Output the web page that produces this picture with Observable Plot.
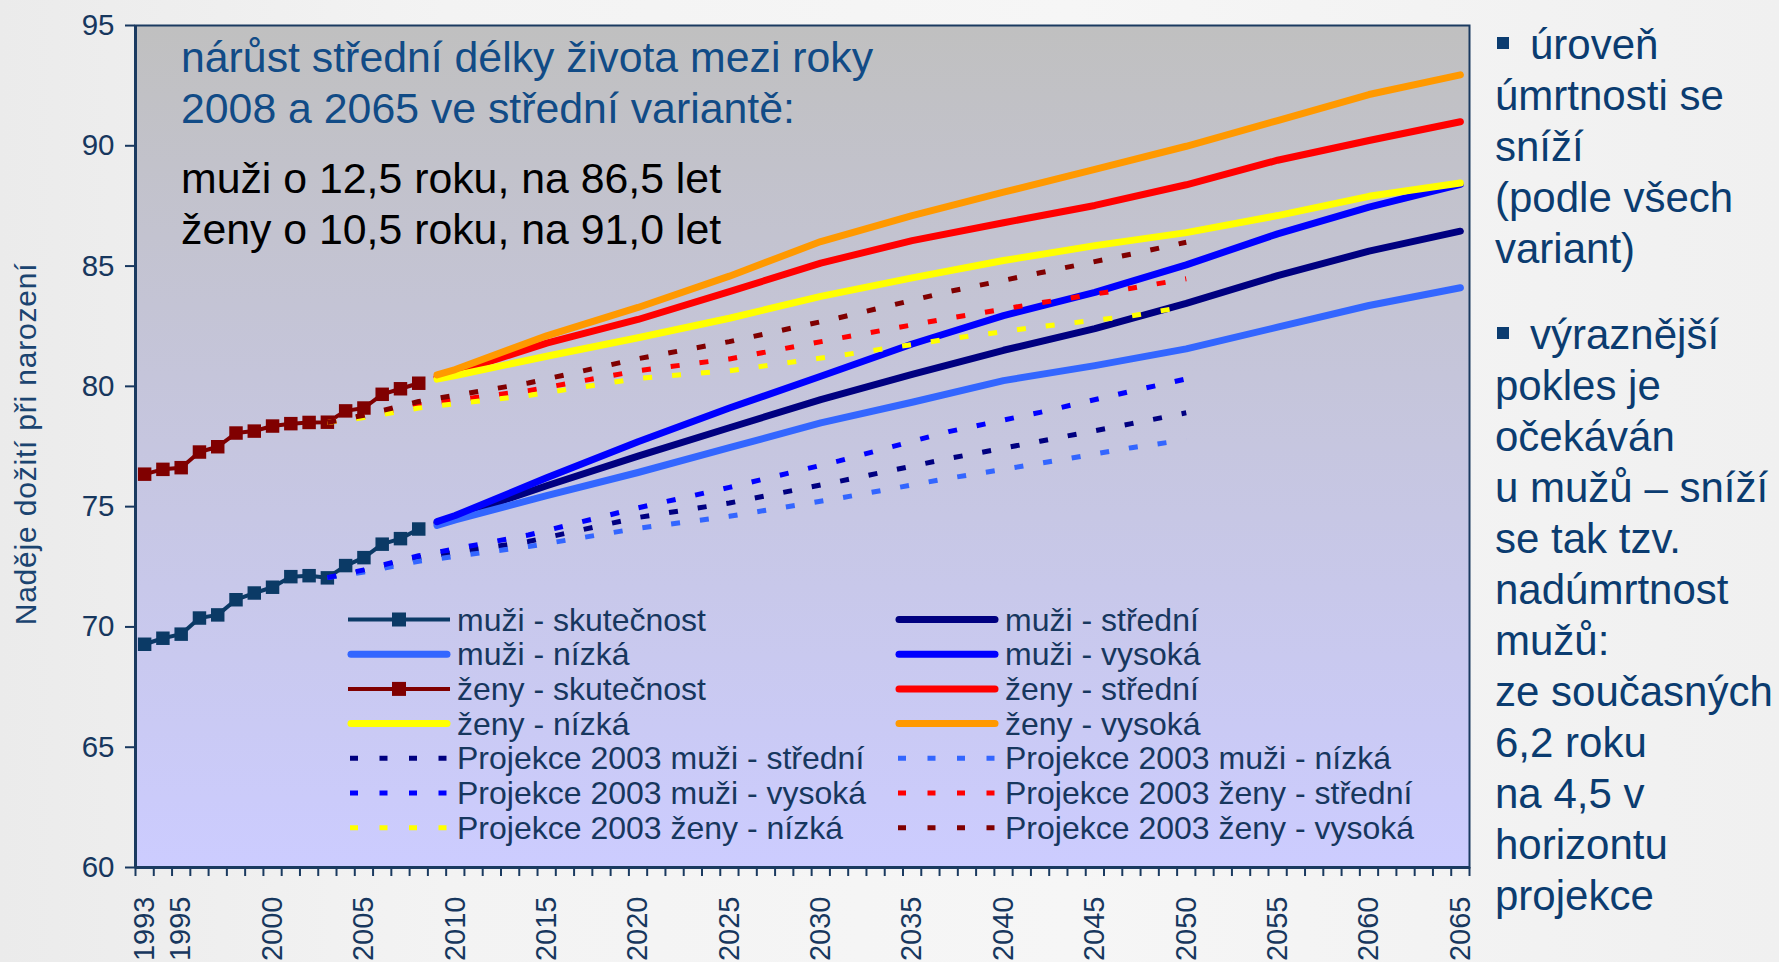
<!DOCTYPE html>
<html>
<head>
<meta charset="utf-8">
<script src="https://cdn.jsdelivr.net/npm/d3@7"></script>
<script src="https://cdn.jsdelivr.net/npm/@observablehq/plot@0.6"></script>
<style>
  html, body { margin: 0; padding: 0; }
  body { width: 1779px; height: 962px; overflow: hidden;
         background: linear-gradient(90deg, #ebebeb 0%, #f3f3f3 25%, #f6f6f6 60%, #f0f0f0 100%);
         font-family: "Liberation Sans", Arial, sans-serif; }
  #wrap { position: relative; width: 1779px; height: 962px; }
  #chart, #overlay { position: absolute; left: 0; top: 0; }
  #overlay { pointer-events: none; }
</style>
</head>
<body>
<div id="wrap">
  <div id="chart"></div>
  <div id="overlay"></div>
</div>
<script>
// ---------------- data ----------------
const histYears = [1993,1994,1995,1996,1997,1998,1999,2000,2001,2002,2003,2004,2005,2006,2007,2008];
const muziSkutecnost = [69.28,69.53,69.70,70.37,70.50,71.13,71.41,71.65,72.09,72.13,72.04,72.55,72.88,73.44,73.67,74.07];
const zenySkutecnost = [76.35,76.55,76.62,77.27,77.49,78.06,78.14,78.35,78.45,78.50,78.51,78.98,79.10,79.67,79.90,80.13];

const projYears   = [2009,2010,2015,2020,2025,2030,2035,2040,2045,2050,2055,2060,2065];
const muziStredni = [74.32,74.58,75.87,77.10,78.28,79.45,80.50,81.50,82.40,83.45,84.60,85.62,86.45];
const muziNizka   = [74.22,74.45,75.46,76.42,77.45,78.48,79.34,80.24,80.86,81.56,82.46,83.36,84.10];
const muziVysoka  = [74.38,74.63,76.20,77.70,79.10,80.42,81.76,82.94,83.91,85.05,86.34,87.45,88.40];
const zenyStredni = [80.38,80.58,81.80,82.78,83.94,85.12,86.06,86.80,87.52,88.38,89.40,90.22,91.00];
const zenyNizka   = [80.30,80.45,81.25,82.02,82.83,83.74,84.51,85.23,85.85,86.39,87.10,87.90,88.45];
const zenyVysoka  = [80.48,80.70,82.10,83.28,84.58,86.02,87.10,88.07,89.02,89.98,91.05,92.13,92.95];

const p03Years        = [2003,2005,2008,2014,2020,2025,2031,2037,2042,2047,2050];
const p03MuziStredni  = [72.05,72.33,72.87,73.55,74.55,75.15,76.05,77.00,77.72,78.45,78.90];
const p03MuziNizka    = [72.05,72.28,72.73,73.34,74.10,74.60,75.35,76.18,76.80,77.45,77.78];
const p03MuziVysoka   = [72.05,72.37,72.96,73.82,74.95,75.80,76.90,78.12,78.92,79.80,80.31];
const p03ZenyStredni  = [78.50,78.75,79.23,79.82,80.65,81.14,82.00,82.83,83.47,84.08,84.47];
const p03ZenyNizka    = [78.50,78.70,79.10,79.62,80.33,80.65,81.28,81.97,82.48,82.93,83.32];
const p03ZenyVysoka   = [78.50,78.80,79.37,80.14,81.15,81.86,82.85,83.94,84.72,85.50,85.99];

const yTicks = [60,65,70,75,80,85,90,95];
const xTickLabels = [1993,1995,2000,2005,2010,2015,2020,2025,2030,2035,2040,2045,2050,2055,2060,2065];
const yTitle = "Naděje dožití při narození";

const seriesNames = [
  "muži - skutečnost", "muži - střední",
  "muži - nízká", "muži - vysoká",
  "ženy - skutečnost", "ženy - střední",
  "ženy - nízká", "ženy - vysoká",
  "Projekce 2003 muži - střední", "Projekce 2003 muži - nízká",
  "Projekce 2003 muži - vysoká", "Projekce 2003 ženy - střední",
  "Projekce 2003 ženy - nízká", "Projekce 2003 ženy - vysoká"
];
const seriesData = {
  "muži - skutečnost": [histYears, muziSkutecnost],
  "muži - střední": [projYears, muziStredni],
  "muži - nízká": [projYears, muziNizka],
  "muži - vysoká": [projYears, muziVysoka],
  "ženy - skutečnost": [histYears, zenySkutecnost],
  "ženy - střední": [projYears, zenyStredni],
  "ženy - nízká": [projYears, zenyNizka],
  "ženy - vysoká": [projYears, zenyVysoka],
  "Projekce 2003 muži - střední": [p03Years, p03MuziStredni],
  "Projekce 2003 muži - nízká": [p03Years, p03MuziNizka],
  "Projekce 2003 muži - vysoká": [p03Years, p03MuziVysoka],
  "Projekce 2003 ženy - střední": [p03Years, p03ZenyStredni],
  "Projekce 2003 ženy - nízká": [p03Years, p03ZenyNizka],
  "Projekce 2003 ženy - vysoká": [p03Years, p03ZenyVysoka]
};

const noteBlue = ["nárůst střední délky života mezi roky", "2008 a 2065 ve střední variantě:"];
const noteBlack = ["muži o 12,5 roku, na 86,5 let", "ženy o 10,5 roku, na 91,0 let"];
const sidePara1 = ["úroveň", "úmrtnosti se", "sníží", "(podle všech", "variant)"];
const sidePara2 = ["výraznější", "pokles je", "očekáván", "u mužů – sníží", "se tak tzv.", "nadúmrtnost", "mužů:", "ze současných", "6,2 roku", "na 4,5 v", "horizontu", "projekce"];

// ---------------- styles ----------------
const styles = {
  "muži - skutečnost": {color: "#0b3a66", kind: "hist"},
  "muži - střední": {color: "#000080", kind: "proj"},
  "muži - nízká": {color: "#3366ff", kind: "proj"},
  "muži - vysoká": {color: "#0000ff", kind: "proj"},
  "ženy - skutečnost": {color: "#800000", kind: "hist"},
  "ženy - střední": {color: "#ff0000", kind: "proj"},
  "ženy - nízká": {color: "#ffff00", kind: "proj"},
  "ženy - vysoká": {color: "#ff9900", kind: "proj"},
  "Projekce 2003 muži - střední": {color: "#000080", kind: "dot"},
  "Projekce 2003 muži - nízká": {color: "#3366ff", kind: "dot"},
  "Projekce 2003 muži - vysoká": {color: "#0000ff", kind: "dot"},
  "Projekce 2003 ženy - střední": {color: "#ff0000", kind: "dot"},
  "Projekce 2003 ženy - nízká": {color: "#ffff00", kind: "dot"},
  "Projekce 2003 ženy - vysoká": {color: "#800000", kind: "dot"}
};
const textBlue = "#17375e";
const axisBlue = "#1a3a60";
const font = "'Liberation Sans', Arial, sans-serif";
const dash = "9,20";

// ---------------- build ----------------
const rowsOf = name => {
  const [ys, vs] = seriesData[name];
  return ys.map((year, i) => ({series: name, year, value: vs[i]}));
};

const xCategories = d3.range(histYears[0], projYears[projYears.length - 1] + 1);
const xBoundaries = [...xCategories.map(y => y - 0.5), xCategories[xCategories.length - 1] + 0.5];

const lineMarks = [];
for (const kind of ["hist", "proj", "dot"]) {
  for (const name of seriesNames) {
    const st = styles[name];
    if (st.kind !== kind) continue;
    const rows = rowsOf(name);
    if (kind === "hist") {
      lineMarks.push(Plot.line(rows, {x: "year", y: "value", stroke: st.color, strokeWidth: 4}));
      lineMarks.push(Plot.dot(rows, {x: "year", y: "value", symbol: "square", r: 7.6, fill: st.color, stroke: "none"}));
    } else if (kind === "proj") {
      lineMarks.push(Plot.line(rows, {x: "year", y: "value", stroke: st.color, strokeWidth: 7, strokeLinecap: "round", strokeLinejoin: "round"}));
    } else {
      lineMarks.push(Plot.line(rows, {x: "year", y: "value", stroke: st.color, strokeWidth: 5, strokeDasharray: dash, strokeLinecap: "butt"}));
    }
  }
}

const chart = Plot.plot({
  width: 1480,
  height: 962,
  marginTop: 25,
  marginLeft: 135,
  marginRight: 11,
  marginBottom: 95,
  x: {type: "linear", domain: [xBoundaries[0], xBoundaries[xBoundaries.length - 1]], label: null},
  y: {domain: [yTicks[0], yTicks[yTicks.length - 1]], label: null},
  style: {background: "transparent", overflow: "visible", fontFamily: font, color: textBlue},
  marks: [
    Plot.frame({fill: "url(#plotBg)", stroke: axisBlue, strokeWidth: 2}),
    Plot.axisY(yTicks, {tickSize: 10, tickPadding: 11, fontSize: 29.5, strokeWidth: 2, label: null, color: textBlue}),
    Plot.axisX(xBoundaries, {tickSize: 9, tickFormat: () => "", strokeWidth: 2, label: null, color: axisBlue}),
    Plot.axisX(xTickLabels, {tickSize: 0, tickPadding: 29, tickRotate: -90, fontSize: 29, tickFormat: d => String(d), label: null, color: textBlue}),
    Plot.ruleX([xBoundaries[0]], {stroke: axisBlue, strokeWidth: 3}),
    Plot.ruleY([yTicks[0]], {stroke: axisBlue, strokeWidth: 3}),
    ...lineMarks
  ]
});

// gradient for plot area
const csvg = d3.select(chart);
const defs = csvg.insert("defs", ":first-child");
const lg = defs.append("linearGradient").attr("id", "plotBg").attr("x1", 0).attr("y1", 0).attr("x2", 0).attr("y2", 1);
lg.append("stop").attr("offset", "0%").attr("stop-color", "#c0c0c0");
lg.append("stop").attr("offset", "100%").attr("stop-color", "#ccccff");

document.getElementById("chart").appendChild(chart);

// ---------------- overlay: titles, legend, side text ----------------
const ov = d3.create("svg").attr("width", 1779).attr("height", 962)
  .style("font-family", font);

// y-axis title
ov.append("text").attr("transform", "translate(36,444) rotate(-90)")
  .attr("text-anchor", "middle").attr("font-size", 30).attr("letter-spacing", 0.8)
  .attr("fill", "#1b4470").text(yTitle);

// note inside the plot
noteBlue.forEach((t, i) => ov.append("text").attr("x", 181).attr("y", 72 + i * 51)
  .attr("font-size", 42.8).attr("fill", "#114b86").text(t));
noteBlack.forEach((t, i) => ov.append("text").attr("x", 181).attr("y", 193 + i * 51)
  .attr("font-size", 42.8).attr("fill", "#000000").text(t));

// legend
const colX = [[348, 450, 457], [896, 998, 1005]];
seriesNames.forEach((name, i) => {
  const st = styles[name];
  const row = Math.floor(i / 2), col = i % 2;
  const cy = 619.5 + row * 34.7;
  const [x0, x1, tx] = colX[col];
  const g = ov.append("g");
  if (st.kind === "hist") {
    g.append("line").attr("x1", x0).attr("x2", x1).attr("y1", cy).attr("y2", cy)
      .attr("stroke", st.color).attr("stroke-width", 4);
    g.append("rect").attr("x", (x0 + x1) / 2 - 7).attr("y", cy - 7).attr("width", 14).attr("height", 14)
      .attr("fill", st.color);
  } else if (st.kind === "proj") {
    g.append("line").attr("x1", x0 + 3).attr("x2", x1 - 3).attr("y1", cy).attr("y2", cy)
      .attr("stroke", st.color).attr("stroke-width", 7).attr("stroke-linecap", "round");
  } else {
    g.append("line").attr("x1", x0 + 2).attr("x2", x1).attr("y1", cy).attr("y2", cy)
      .attr("stroke", st.color).attr("stroke-width", 5).attr("stroke-dasharray", "8,21.5");
  }
  g.append("text").attr("x", tx).attr("y", cy + 11).attr("font-size", 32)
    .attr("fill", textBlue).text(name);
});

// side text
const sideColor = "#0b3c70";
const sideX = 1495;
const addPara = (lines, y0) => {
  lines.forEach((t, i) => {
    const y = y0 + i * 51;
    if (i === 0) {
      ov.append("rect").attr("x", sideX + 2).attr("y", y - 22).attr("width", 12).attr("height", 12).attr("fill", sideColor);
      ov.append("text").attr("x", sideX + 35).attr("y", y).attr("font-size", 42).attr("fill", sideColor).text(t);
    } else {
      ov.append("text").attr("x", sideX).attr("y", y).attr("font-size", 42).attr("fill", sideColor).text(t);
    }
  });
};
addPara(sidePara1, 59);
addPara(sidePara2, 349);

document.getElementById("overlay").appendChild(ov.node());
</script>
</body>
</html>
